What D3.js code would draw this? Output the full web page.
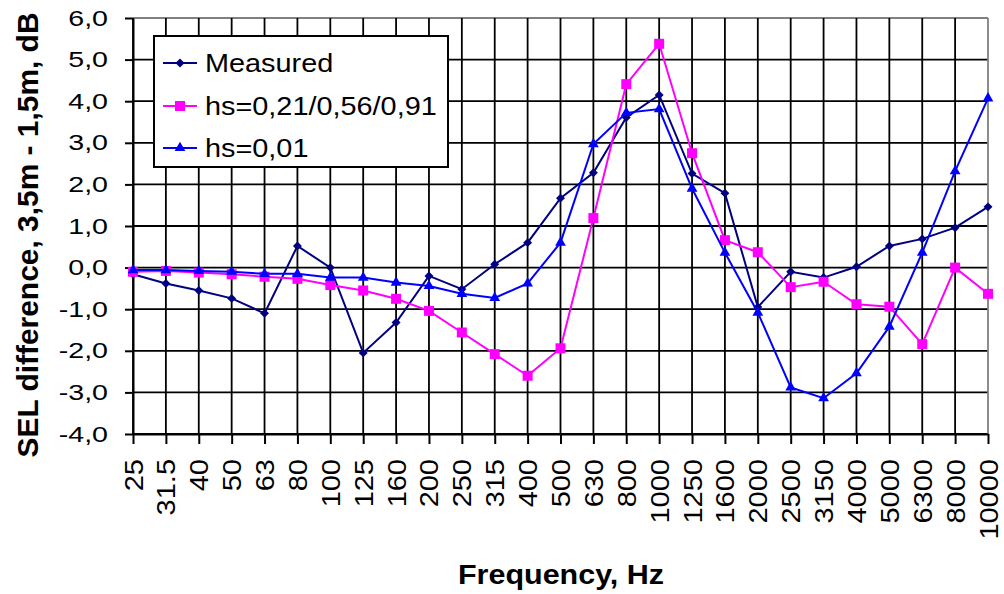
<!DOCTYPE html>
<html>
<head>
<meta charset="utf-8">
<script src="https://cdn.jsdelivr.net/npm/d3@7"></script>
<style>
body { margin: 0; background: #fff; }
svg { display: block; font-family: "Liberation Sans", Arial, sans-serif; }
</style>
</head>
<body>
<svg id="chart" width="1004" height="594"></svg>
<script>
var categories = ["25","31.5","40","50","63","80","100","125","160","200","250","315","400",
	"500","630","800","1000","1250","1600","2000","2500","3150","4000","5000","6300","8000","10000"];
var measured = [-0.16,-0.38,-0.55,-0.74,-1.10,0.52,0.0,-2.05,-1.32,-0.20,-0.52,0.08,0.60,
	1.67,2.28,3.61,4.15,2.26,1.79,-0.95,-0.10,-0.24,0.02,0.52,0.69,0.96,1.46];
var hsMulti = [-0.10,-0.08,-0.12,-0.16,-0.22,-0.27,-0.42,-0.55,-0.75,-1.04,-1.56,-2.08,-2.60,
	-1.94,1.19,4.41,5.38,2.75,0.66,0.37,-0.47,-0.34,-0.88,-0.94,-1.84,0.0,-0.63];
var hsLow = [-0.06,-0.06,-0.08,-0.10,-0.15,-0.15,-0.24,-0.24,-0.36,-0.44,-0.63,-0.73,-0.38,
	0.60,2.97,3.72,3.81,1.90,0.36,-1.08,-2.88,-3.14,-2.54,-1.42,0.36,2.32,4.07];
var yTicks = [-4,-3,-2,-1,0,1,2,3,4,5,6];
var seriesNames = ["Measured", "hs=0,21/0,56/0,91", "hs=0,01"];

var plotLeft = 133, plotRight = 988, plotTop = 18, plotBottom = 434;

// excel style diamond (square turned 45 degrees)
var diamond = {
	draw: function(ctx, size) {
		var r = Math.sqrt(size / 2);
		ctx.moveTo(0, -r);
		ctx.lineTo(r, 0);
		ctx.lineTo(0, r);
		ctx.lineTo(-r, 0);
		ctx.closePath();
	}
};

var series = [
	{name: seriesNames[0], values: measured, color: "#000080", symbol: diamond, size: 40},
	{name: seriesNames[1], values: hsMulti, color: "#ff00ff", symbol: d3.symbolSquare, size: 100},
	{name: seriesNames[2], values: hsLow, color: "#0000ff", symbol: d3.symbolTriangle, size: 50}
];

var svg = d3.select("#chart");

var x = d3.scalePoint()
	.domain(categories)
	.range([plotLeft, plotRight]);
var y = d3.scaleLinear()
	.domain([-4, 6])
	.range([plotBottom, plotTop]);

var grid = svg.append("g");
grid.selectAll("line.h")
	.data(yTicks)
	.enter()
	.append("line")
	.attr("x1", plotLeft)
	.attr("x2", plotRight)
	.attr("y1", function(d) { return y(d); })
	.attr("y2", function(d) { return y(d); })
	.attr("stroke", function(d) { return d == 6 ? "#808080" : "#000"; })
	.attr("stroke-width", 1.8);
grid.selectAll("line.v")
	.data(categories)
	.enter()
	.append("line")
	.attr("x1", function(d) { return x(d); })
	.attr("x2", function(d) { return x(d); })
	.attr("y1", plotTop)
	.attr("y2", plotBottom)
	.attr("stroke", function(d, i) { return i == categories.length - 1 ? "#808080" : "#000"; })
	.attr("stroke-width", 1.8);

var yAxis = svg.append("g")
	.attr("transform", "translate(" + plotLeft + ",0)")
	.call(d3.axisLeft(y)
		.tickValues(yTicks)
		.tickSize(8)
		.tickSizeOuter(0)
		.tickFormat(function(d) { return d.toFixed(1).replace(".", ","); }));
yAxis.selectAll("path, line").attr("stroke", "#000").attr("stroke-width", 2);
yAxis.selectAll("text")
	.attr("font-size", 22)
	.attr("fill", "#000")
	.attr("x", -25 / 1.3)
	.attr("transform", "scale(1.3,1)");

var xAxis = svg.append("g")
	.attr("transform", "translate(0," + plotBottom + ")")
	.call(d3.axisBottom(x)
		.tickSize(10)
		.tickSizeOuter(0));
xAxis.selectAll("path, line").attr("stroke", "#000").attr("stroke-width", 2);
xAxis.selectAll("text")
	.attr("font-size", 25)
	.attr("fill", "#000")
	.attr("x", 0)
	.attr("y", 0)
	.attr("dy", "0.36em")
	.attr("text-anchor", "end")
	.attr("transform", "translate(0,25) rotate(-90) scale(1.16,1)");

var line = d3.line()
	.x(function(d, i) { return x(categories[i]); })
	.y(function(d) { return y(d); });

series.forEach(function(s) {
	var g = svg.append("g");
	g.append("path")
		.attr("d", line(s.values))
		.attr("fill", "none")
		.attr("stroke", s.color)
		.attr("stroke-width", 2);
	g.selectAll("path.mark")
		.data(s.values)
		.enter()
		.append("path")
		.attr("class", "mark")
		.attr("transform", function(d, i) {
			return "translate(" + x(categories[i]) + "," + y(d) + ")"; })
		.attr("d", d3.symbol().type(s.symbol).size(s.size))
		.attr("fill", s.color);
});

var legend = svg.append("g");
legend.append("rect")
	.attr("x", 154)
	.attr("y", 36)
	.attr("width", 294)
	.attr("height", 131)
	.attr("fill", "#fff")
	.attr("stroke", "#000")
	.attr("stroke-width", 2);
var items = legend.selectAll("g")
	.data(series)
	.enter()
	.append("g")
	.attr("transform", function(d, i) { return "translate(0," + [63, 106, 148][i] + ")"; });
items.append("line")
	.attr("x1", 163)
	.attr("x2", 197)
	.attr("stroke", function(d) { return d.color; })
	.attr("stroke-width", 2);
items.append("path")
	.attr("transform", "translate(180,0)")
	.attr("d", function(d) { return d3.symbol().type(d.symbol).size(d.size)(); })
	.attr("fill", function(d) { return d.color; });
items.append("text")
	.attr("transform", "translate(205,0) scale(1.11,1)")
	.attr("dy", "0.36em")
	.attr("font-size", 26)
	.text(function(d) { return d.name; });

svg.append("text")
	.attr("x", 561)
	.attr("y", 584)
	.attr("text-anchor", "middle")
	.attr("font-size", 27)
	.attr("font-weight", "bold")
	.attr("textLength", 206)
	.attr("lengthAdjust", "spacingAndGlyphs")
	.text("Frequency, Hz");

svg.append("text")
	.attr("transform", "translate(38,235) rotate(-90)")
	.attr("text-anchor", "middle")
	.attr("font-size", 29)
	.attr("font-weight", "bold")
	.attr("textLength", 445)
	.attr("lengthAdjust", "spacingAndGlyphs")
	.text("SEL difference, 3,5m - 1,5m, dB");
</script>
</body>
</html>
